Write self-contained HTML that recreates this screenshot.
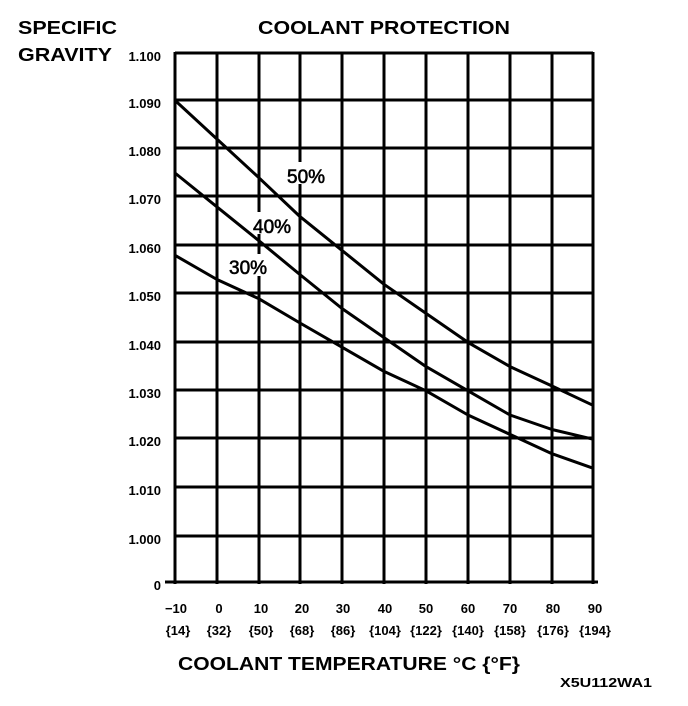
<!DOCTYPE html>
<html><head><meta charset="utf-8"><style>body{margin:0;background:#fff}svg{display:block}</style></head><body>
<svg width="688" height="706" viewBox="0 0 688 706" xmlns="http://www.w3.org/2000/svg" font-family="Liberation Sans, Arial, sans-serif" font-weight="bold" fill="#000">
<g stroke="#000" stroke-width="3" fill="none">
<line x1="175" y1="52" x2="175" y2="584"/><line x1="217" y1="52" x2="217" y2="584"/><line x1="259" y1="52" x2="259" y2="584"/><line x1="300" y1="52" x2="300" y2="584"/><line x1="342" y1="52" x2="342" y2="584"/><line x1="384" y1="52" x2="384" y2="584"/><line x1="426" y1="52" x2="426" y2="584"/><line x1="468" y1="52" x2="468" y2="584"/><line x1="510" y1="52" x2="510" y2="584"/><line x1="552" y1="52" x2="552" y2="584"/><line x1="593" y1="52" x2="593" y2="584"/>
<line x1="175" y1="53" x2="593" y2="53"/><line x1="175" y1="100" x2="593" y2="100"/><line x1="175" y1="148" x2="593" y2="148"/><line x1="175" y1="196" x2="593" y2="196"/><line x1="175" y1="245" x2="593" y2="245"/><line x1="175" y1="293" x2="593" y2="293"/><line x1="175" y1="342" x2="593" y2="342"/><line x1="175" y1="390" x2="593" y2="390"/><line x1="175" y1="438" x2="593" y2="438"/><line x1="175" y1="487" x2="593" y2="487"/><line x1="175" y1="536" x2="593" y2="536"/><line x1="165" y1="582" x2="598" y2="582"/>
</g>
<g fill="#fff"><rect x="286" y="162" width="46" height="22"/><rect x="252" y="212" width="46" height="22"/><rect x="228" y="254" width="46" height="22"/></g>
<g stroke="#000" stroke-width="3" fill="none" stroke-linejoin="round">
<polyline points="175,100.4 217,139.1 259,177.8 300,216.6 342,250.4 384,284.3 426,313.4 468,342.4 510,366.6 552,386 593,405.3"/>
<polyline points="175,173 217,206.9 259,240.8 300,274.6 342,308.5 384,337.6 426,366.6 468,390.8 510,415 552,429.5 593,439.2"/>
<polyline points="175,255.3 217,279.5 259,298.8 300,323 342,347.2 384,371.4 426,390.8 468,415 510,434.4 552,453.7 593,468.2"/>
</g>
<text x="287" y="183" font-size="19" font-weight="normal" stroke="#000" stroke-width="0.6">50%</text>
<text x="253" y="233" font-size="19" font-weight="normal" stroke="#000" stroke-width="0.6">40%</text>
<text x="229" y="274" font-size="19" font-weight="normal" stroke="#000" stroke-width="0.6">30%</text>
<text x="18" y="34" font-size="18" textLength="99" lengthAdjust="spacingAndGlyphs">SPECIFIC</text>
<text x="18" y="61" font-size="18" textLength="94" lengthAdjust="spacingAndGlyphs">GRAVITY</text>
<text x="258" y="34" font-size="18" textLength="252" lengthAdjust="spacingAndGlyphs">COOLANT PROTECTION</text>
<g font-size="13" text-anchor="end">
<text x="161" y="61">1.100</text><text x="161" y="108">1.090</text><text x="161" y="156">1.080</text><text x="161" y="204">1.070</text><text x="161" y="253">1.060</text><text x="161" y="301">1.050</text><text x="161" y="350">1.040</text><text x="161" y="398">1.030</text><text x="161" y="446">1.020</text><text x="161" y="495">1.010</text><text x="161" y="544">1.000</text><text x="161" y="590">0</text>
</g>
<g font-size="13" text-anchor="middle">
<text x="176" y="613">−10</text><text x="219" y="613">0</text><text x="261" y="613">10</text><text x="302" y="613">20</text><text x="343" y="613">30</text><text x="385" y="613">40</text><text x="426" y="613">50</text><text x="468" y="613">60</text><text x="510" y="613">70</text><text x="553" y="613">80</text><text x="595" y="613">90</text>
<text x="178" y="635">{14}</text><text x="219" y="635">{32}</text><text x="261" y="635">{50}</text><text x="302" y="635">{68}</text><text x="343" y="635">{86}</text><text x="385" y="635">{104}</text><text x="426" y="635">{122}</text><text x="468" y="635">{140}</text><text x="510" y="635">{158}</text><text x="553" y="635">{176}</text><text x="595" y="635">{194}</text>
</g>
<text x="178" y="670" font-size="18" textLength="342" lengthAdjust="spacingAndGlyphs">COOLANT TEMPERATURE °C {°F}</text>
<text x="560" y="687" font-size="13" textLength="92" lengthAdjust="spacingAndGlyphs">X5U112WA1</text>
</svg>
</body></html>
